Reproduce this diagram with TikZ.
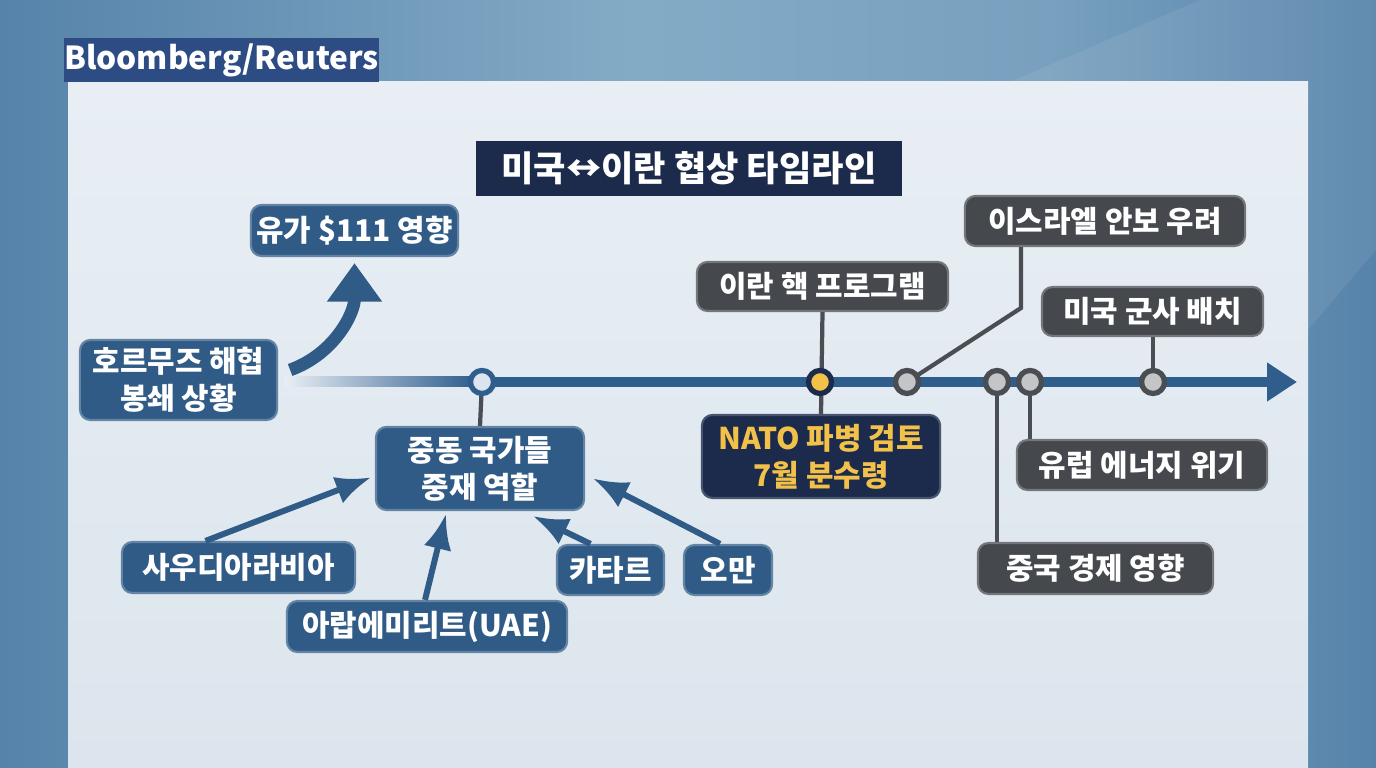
\documentclass[tikz,border=0pt]{standalone}
\usepackage{fontspec}
\setmainfont{Noto Sans CJK KR}
\usetikzlibrary{positioning,arrows.meta,calc}
\definecolor{bgblue}{HTML}{5683AA}
\definecolor{bglight}{HTML}{84ABC6}
\definecolor{paneltop}{HTML}{E8EEF4}
\definecolor{panelbot}{HTML}{DCE5ED}
\definecolor{srcblue}{HTML}{2C4C83}
\definecolor{navy}{HTML}{1C2B4B}
\definecolor{midblue}{HTML}{2F5B86}
\definecolor{linegray}{HTML}{4A4E53}
\definecolor{darkbox}{HTML}{45494E}
\definecolor{lineblue}{HTML}{2F5E8D}
\definecolor{gold}{HTML}{F2C14A}
\definecolor{dotgray}{HTML}{C4C5C7}
\definecolor{dotlight}{HTML}{DCE5EF}
\pgfdeclarehorizontalshading{backdrop}{100bp}{color(0bp)=(bgblue); color(25bp)=(bgblue); color(48bp)=(bglight); color(63bp)=(bglight!75!bgblue); color(75bp)=(bgblue); color(100bp)=(bgblue)}
\tikzset{
  labelfont/.style={font=\fontsize{8.5}{10.6}\selectfont\bfseries},
  bluebox/.style={draw=midblue!75!white, line width=0.6pt, rounded corners=3pt, fill=midblue, text=white, align=center, inner sep=0pt, labelfont},
  greybox/.style={draw=darkbox!75!white, line width=0.6pt, rounded corners=3pt, fill=darkbox, text=white, align=center, inner sep=0pt, labelfont},
  navybox/.style={draw=navy!80!white, line width=0.6pt, rounded corners=3pt, fill=navy, text=gold, align=center, inner sep=0pt, labelfont},
  stem/.style={draw=linegray, line width=1.2pt},
  dot/.style={circle, draw=linegray, line width=1.5pt, fill=dotgray, minimum size=0.23cm, inner sep=0pt},
  medarrow/.style={-{Latex[length=10pt,width=8pt]}, line width=1.7pt, draw=midblue},
  bigarrow/.style={-{Triangle[length=11pt,width=15pt]}, line width=3.6pt, draw=midblue},
  timeline/.style={-{Triangle[length=8.5pt,width=10.5pt]}, line width=0.1cm, draw=lineblue}
}
\begin{document}
\begin{tikzpicture}[x=0.01cm, y=-0.01cm]
  \useasboundingbox (0,0) rectangle (1376,768);
  \shade[shading=backdrop] (0,0) rectangle (1376,768);
  \fill[white, opacity=0.07] (1010,82) -- (1200,0) -- (1376,0) -- (1376,250) -- (1308,330) -- (1308,82) -- cycle;
  \shade[top color=paneltop, bottom color=panelbot] (68,82) rectangle (1308,768);

  \node[fill=srcblue, text=white, minimum width=3.07cm, minimum height=0.44cm, inner sep=0pt,
        font=\fontsize{9}{11}\selectfont\bfseries] (source) at (221.5,60) {Bloomberg/Reuters};
  \node[fill=navy, text=white, minimum width=4.26cm, minimum height=0.55cm, inner sep=0pt,
        font=\fontsize{10}{12}\selectfont\bfseries] (title) at (689,168.5) {미국↔이란 협상 타임라인};

  \shade[left color=paneltop, right color=lineblue] (285,377) rectangle (474,387);
  \coordinate (tstart) at (470,382);
  \coordinate (tend) at (1297,382);
  \draw[timeline] (tstart) -- (tend);

  \node[bluebox, minimum width=1.97cm, minimum height=0.80cm] (hormuz) at (178.5,380) {호르무즈 해협\\봉쇄 상황};
  \node[bluebox, minimum width=2.07cm, minimum height=0.51cm] (oil) at (354.5,230.5) {유가 \$111 영향};
  \node[bluebox, minimum width=2.08cm, minimum height=0.83cm] (mideast) at (480,468.5) {중동 국가들\\중재 역할};
  \node[bluebox, minimum width=2.33cm, minimum height=0.51cm] (saudi) at (238.5,567.5) {사우디아라비아};
  \node[bluebox, minimum width=2.80cm, minimum height=0.51cm] (uae) at (427,626.5) {아랍에미리트(UAE)};
  \node[bluebox, minimum width=1.07cm, minimum height=0.50cm] (qatar) at (610.5,570) {카타르};
  \node[bluebox, minimum width=0.88cm, minimum height=0.50cm] (oman) at (728,570) {오만};

  \node[greybox, minimum width=2.51cm, minimum height=0.49cm] (nuclear) at (822.5,286.5) {이란 핵 프로그램};
  \node[navybox, minimum width=2.38cm, minimum height=0.83cm] (nato) at (821,456.5) {NATO 파병 검토\\7월 분수령};
  \node[greybox, minimum width=2.80cm, minimum height=0.50cm] (israel) at (1105,221) {이스라엘 안보 우려};
  \node[greybox, minimum width=2.21cm, minimum height=0.49cm] (usmil) at (1152.5,311.5) {미국 군사 배치};
  \node[greybox, minimum width=2.50cm, minimum height=0.50cm] (euro) at (1142,465) {유럽 에너지 위기};
  \node[greybox, minimum width=2.35cm, minimum height=0.51cm] (china) at (1095.5,568.5) {중국 경제 영향};

  \coordinate (bend) at (1021,308);
  \draw[stem] (482,382) -- (mideast.north);
  \draw[stem] (nuclear.south) -- (nato.north);
  \draw[stem] (907,382) -- (bend) -- (bend |- israel.south);
  \draw[stem] (997,382) -- (997,0 |- china.north);
  \draw[stem] (1030,382) -- (1030,0 |- euro.north);
  \draw[stem] (1153,382) -- (1153,0 |- usmil.south);

  \node[dot, draw=lineblue, fill=dotlight] (m1) at (482,382) {};
  \node[dot, draw=navy, fill=gold] (m2) at (820,382) {};
  \node[dot] (m3) at (907,382) {};
  \node[dot] (m4) at (997,382) {};
  \node[dot] (m5) at (1030,382) {};
  \node[dot] (m6) at (1153,382) {};

  \draw[bigarrow] ([xshift=0.12cm,yshift=0.1cm]hormuz.east) to[out=20, in=-90] ([yshift=-0.06cm]oil.south);
  \draw[medarrow] ([xshift=-0.33cm]saudi.north) -- ([xshift=-0.04cm,yshift=-0.09cm]mideast.west);
  \draw[medarrow] ([xshift=-0.02cm]uae.north) -- ([xshift=-0.34cm,yshift=-0.03cm]mideast.south);
  \draw[medarrow] ([xshift=-0.2cm]qatar.north) -- ([xshift=0.53cm,yshift=-0.05cm]mideast.south);
  \draw[medarrow] ([xshift=-0.08cm]oman.north) -- ([xshift=0.08cm,yshift=-0.1cm]mideast.east);
\end{tikzpicture}
\end{document}
